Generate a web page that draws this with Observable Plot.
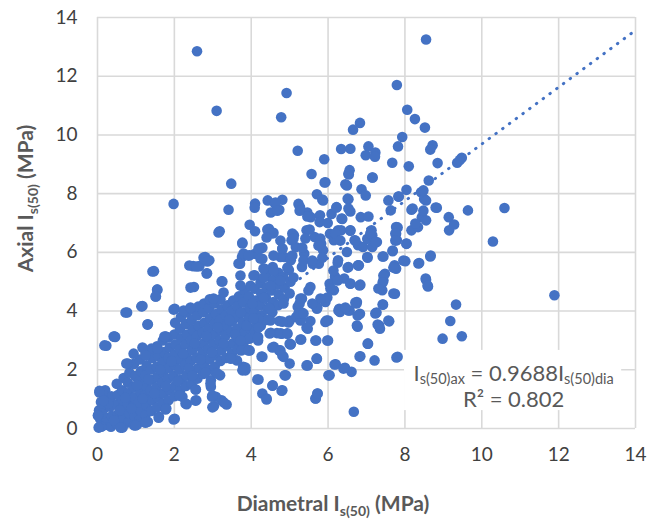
<!DOCTYPE html>
<html><head><meta charset="utf-8">
<script src="https://cdn.jsdelivr.net/npm/d3@7"></script>
<script src="https://cdn.jsdelivr.net/npm/@observablehq/plot@0.6"></script>
<style>
body{margin:0;background:#fff;}
#chart{width:660px;height:520px;}
</style></head><body><div id="chart"></div>
<script>
// ---------- data (Diametral Is(50), Axial Is(50)) in MPa ----------
const xTicks = [0, 2, 4, 6, 8, 10, 12, 14];
const yTicks = [0, 2, 4, 6, 8, 10, 12, 14];
const trendSlope = 0.9688;
const trendR2 = 0.802;
const trendX = [0, 14];

const upperScatter = [
[2.59,12.85],[8.55,13.25],[7.79,11.70],[4.92,11.43],[3.10,10.82],[4.78,10.60],[8.06,10.86],[8.26,10.54],[6.83,10.41],[6.65,10.18],
[8.52,10.25],[7.93,9.93],[8.72,9.65],[8.66,9.50],[7.82,9.61],[7.05,9.61],[6.34,9.52],[6.58,9.53],[5.21,9.46],[7.23,9.40],
[6.98,9.31],[7.22,9.26],[5.90,9.17],[7.67,9.05],[8.10,8.93],[8.85,9.04],[9.36,9.05],[9.48,9.22],[9.43,9.15],[7.15,8.55],
[6.56,8.80],[6.54,8.65],[5.57,8.67],[3.48,8.34],[5.93,8.39],[6.45,8.32],[6.49,8.28],[8.62,8.45],[6.87,8.15],[6.98,7.94],
[8.04,8.13],[8.42,8.05],[5.71,7.98],[5.87,7.77],[6.53,7.81],[7.84,7.90],[7.57,7.77],[8.50,7.82],[8.55,7.77],[1.98,7.65],
[4.43,7.77],[4.10,7.66],[4.09,7.52],[3.41,7.45],[4.81,7.79],[4.62,7.66],[4.51,7.36],[4.73,7.45],[5.23,7.65],[5.27,7.54],
[8.83,7.52],[8.17,7.45],[7.63,7.43],[9.64,7.43],[10.59,7.51],[5.91,8.38],[6.53,8.68],[7.16,8.55],[5.85,7.80],[4.63,7.70],
[4.68,7.42],[5.26,7.42],[5.46,7.22],[6.22,7.53],[6.51,7.83],[6.35,7.15],[6.53,7.49],[7.83,7.90],[8.48,8.11],[8.20,7.49],
[8.48,7.42],[8.80,7.53]
];

const midBand = [
[9.14,7.20],[9.15,6.75],[9.28,6.95],[10.29,6.37],[6.22,7.54],[6.09,7.31],[6.37,7.14],[6.58,7.39],[6.85,7.20],[7.05,7.22],
[5.46,7.36],[5.55,7.20],[5.44,6.75],[5.79,7.26],[5.78,7.03],[5.99,7.00],[8.44,7.20],[8.55,7.09],[8.17,6.75],[8.34,6.86],
[7.77,6.86],[7.77,6.63],[7.79,6.41],[8.04,6.29],[7.68,6.04],[7.44,5.86],[8.66,5.86],[8.01,5.70],[8.37,5.64],[7.73,5.56],
[7.77,5.44],[7.48,5.27],[7.44,5.04],[8.55,5.07],[8.60,4.84],[7.41,4.71],[7.74,4.59],[6.84,4.90],[6.78,5.56],[6.53,5.50],
[6.58,4.93],[6.26,5.73],[6.18,5.18],[6.42,5.11],[6.15,4.71],[6.04,4.93],[3.18,6.72],[3.25,5.01],[3.77,6.33],[3.71,5.61],
[3.76,5.84],[3.96,6.94],[4.10,6.72],[4.23,6.12],[4.10,5.95],[3.96,5.90],[4.46,6.80],[4.58,6.67],[4.29,5.78],[4.35,5.44],
[4.56,5.50],[4.09,5.22],[4.81,6.12],[4.86,5.84],[4.76,5.84],[5.05,6.41],[5.11,6.58],[5.03,5.73],[5.16,6.18],[5.38,5.95],
[5.32,5.50],[5.54,4.82],[5.60,5.61],[5.76,5.61],[5.65,6.52],[5.82,6.29],[5.87,6.07],[6.05,6.63],[6.15,6.41],[6.26,6.75],
[6.34,6.75],[6.49,6.01],[6.58,6.75],[6.69,6.41],[6.78,6.24],[6.91,6.18],[7.02,5.84],[6.80,5.56],[7.13,6.75],[7.15,6.18],
[7.27,6.35],[7.02,6.46],[7.15,6.58],[1.47,5.36],[1.55,4.73],[1.52,4.50],[2.49,5.53],[2.65,5.53],[2.51,4.82],[2.80,5.84],
[2.91,5.73],[2.85,5.29],[4.42,6.78],[4.55,6.64],[5.07,6.64],[5.10,6.47],[5.52,6.78],[5.80,6.47],[6.19,6.64],[6.32,6.40],
[6.71,6.40],[7.10,6.64],[7.23,6.34],[6.58,6.74],[8.27,6.98],[7.81,6.85],[7.75,6.64],[7.75,6.40],[8.04,6.30],[7.68,6.06],
[7.96,5.72],[8.35,5.62],[8.67,5.89],[7.42,5.86],[7.03,5.82],[6.51,5.48],[6.79,5.55],[6.25,5.65],[7.70,5.48],[7.44,5.21],
[7.42,4.97],[7.31,4.77],[7.70,4.60],[8.54,5.11],[8.59,4.87],[6.14,5.38],[6.25,5.04],[6.58,4.94],[6.82,4.87],[6.06,4.77],
[5.98,4.46],[5.80,4.43],[6.71,4.29],[6.45,4.12],[5.28,4.43],[5.59,4.26],[5.49,4.70],[5.10,5.14],[4.76,5.04],[4.32,5.14],
[4.58,5.38],[4.50,4.87],[4.94,5.48],[5.36,5.72],[5.07,5.89],[4.58,5.89],[4.81,6.13],[5.59,5.72],[5.85,5.82],[5.33,6.16],
[5.75,6.23],[4.29,6.16],[4.40,6.51],[5.41,6.47],[4.76,6.40],[3.15,6.68],[3.77,6.30],[4.19,6.13],[3.80,5.96],[3.93,5.89],
[4.24,5.79],[3.67,5.62],[3.72,5.21],[4.06,5.21],[4.32,5.45],[2.76,5.82],[2.86,5.69],[2.39,5.55],[2.58,5.52],[2.84,5.28],
[1.43,5.35],[1.56,4.73],[1.51,4.50],[2.42,4.80],[3.23,5.01],[3.28,4.63],[1.14,4.16],[0.73,3.95],[1.30,3.54],[0.44,3.13],
[1.74,3.13],[1.98,4.05],[2.24,4.02],[2.42,4.12],[3.02,4.43],[3.72,4.87]
];

const lowerRight = [
[7.43,4.22],[9.33,4.22],[11.89,4.54],[7.26,3.95],[7.59,3.65],[7.33,3.51],[7.35,3.40],[9.18,3.66],[8.98,3.06],[9.48,3.14],
[7.04,2.89],[6.84,2.46],[7.21,2.32],[7.81,2.44],[6.67,0.57],[6.75,4.31],[6.83,3.91],[6.75,3.51],[6.56,4.02],[6.29,4.08],
[6.31,3.97],[5.93,4.31],[6.20,2.19],[6.44,2.07],[6.61,1.93],[6.04,1.81],[6.00,3.00],[5.69,3.00],[5.93,3.63],[6.00,3.68],
[5.54,3.66],[5.47,3.40],[5.30,3.03],[5.03,2.87],[5.71,2.38],[5.47,2.15],[5.73,1.19],[5.68,1.02],[5.00,2.21],[4.90,1.81],
[4.81,1.30],[4.56,1.47],[4.29,1.19],[4.40,1.02],[4.19,1.67],[4.29,2.44],[4.73,2.66],[4.84,2.44],[4.59,2.78],[4.80,3.23],
[4.94,3.23],[4.67,3.25],[4.51,3.26],[4.18,3.12],[4.18,3.00],[4.73,3.66],[5.00,3.68],[5.17,3.80],[5.66,4.20],[5.71,4.08],
[5.32,4.43],[5.21,4.15],[5.29,3.97],[5.29,3.74],[6.74,4.26],[7.42,4.22],[6.27,4.02],[6.53,4.02],[6.77,3.85],[7.23,3.92],
[7.57,3.68],[7.29,3.54],[6.77,3.47],[5.96,3.68],[5.44,3.44],[5.28,3.68],[4.97,3.61],[4.81,3.64],[5.28,3.03],[5.02,2.86],
[5.67,3.00],[5.98,3.00],[7.03,2.89],[7.78,2.42],[6.82,2.45],[6.17,2.18],[6.40,2.04],[6.01,1.81],[5.70,2.38],[5.44,2.15],
[4.87,1.81],[4.55,1.46],[4.79,1.29],[4.40,0.99],[4.16,1.67],[5.67,1.02],[5.72,1.19],[4.27,2.45],[4.55,2.76],[4.76,2.66],
[4.81,2.49],[5.00,2.89],[3.93,2.66],[3.72,3.00],[3.85,2.08],[3.77,1.98],[4.16,3.10],[4.48,3.24],[4.76,3.24],[4.94,3.24],
[4.50,3.68],[4.19,3.44],[4.06,3.75],[5.26,4.26],[5.72,4.12],[4.84,4.26],[5.23,3.92],[5.36,3.92]
];

const lowerLeft = [
[3.96,2.66],[3.74,2.66],[3.85,1.98],[3.79,2.10],[3.63,2.32],[3.47,2.38],[3.36,0.82],[3.23,0.96],[3.03,0.76],[3.08,1.08],
[2.98,1.08],[3.19,1.81],[3.08,1.89],[2.95,1.42],[2.95,1.64],[2.56,1.33],[2.57,0.96],[2.32,0.83],[2.21,1.08],[2.01,0.33],
[1.79,0.68],[1.60,0.40],[1.31,0.23],[1.03,0.14],[0.65,0.03],[0.10,0.06],[0.02,0.45],[0.05,1.28],[0.13,1.19],[0.23,2.82],
[0.46,3.12],[0.77,3.95],[0.79,2.21],[1.17,4.17],[1.31,3.55],[1.79,3.12],[2.01,4.08],[0.18,2.83],[0.42,3.13],[0.75,2.21],
[0.94,2.55],[1.17,2.76],[1.25,2.49],[1.77,3.13],[1.56,2.72],[0.05,1.23],[0.16,0.95],[0.01,0.44],[0.03,0.03],[0.60,0.03],
[0.99,0.10],[1.25,0.20],[1.59,0.37],[1.77,0.65],[1.98,0.31],[2.13,1.12],[2.29,0.85],[2.55,1.33],[2.55,0.95],[2.94,1.53],
[2.99,1.12],[2.99,0.72],[3.28,0.89],[3.12,1.87],[2.81,1.91],[2.47,1.80]
];

const clusterCore = [
[0.05,0.05],[0.07,0.32],[0.04,0.62],[0.09,0.9],
[0.2,0.12],[0.22,0.37],[0.18,0.7],[0.24,1.02],[0.2,1.3],
[0.35,0.06],[0.37,0.42],[0.33,0.74],[0.36,1.1],
[0.5,0.16],[0.52,0.47],[0.48,0.82],[0.53,1.14],[0.5,1.52],
[0.65,0.07],[0.67,0.36],[0.63,0.66],[0.66,0.97],[0.64,1.3],[0.68,1.72],
[0.8,0.21],[0.82,0.52],[0.78,0.86],[0.81,1.21],[0.79,1.56],[0.83,1.9],
[0.95,0.11],[0.97,0.42],[0.93,0.76],[0.96,1.06],[0.94,1.41],[0.98,1.79],[0.95,2.2],
[1.1,0.3],[1.12,0.61],[1.08,0.9],[1.11,1.26],[1.09,1.6],[1.13,1.96],[1.1,2.35],
[1.25,0.46],[1.27,0.8],[1.23,1.12],[1.26,1.46],[1.24,1.8],[1.28,2.15],[1.25,2.58],
[1.4,0.6],[1.42,0.96],[1.38,1.3],[1.41,1.66],[1.39,2.01],[1.43,2.4],[1.4,2.72],
[1.55,0.72],[1.57,1.06],[1.53,1.4],[1.56,1.76],[1.54,2.1],[1.58,2.46],[1.55,2.8],
[1.7,0.86],[1.72,1.2],[1.68,1.56],[1.71,1.9],[1.69,2.26],[1.73,2.6],[1.7,3.0],
[1.85,0.96],[1.87,1.31],[1.83,1.7],[1.86,2.06],[1.84,2.4],[1.88,2.76],[1.85,3.1],
[2.0,1.1],[2.02,1.46],[1.98,1.8],[2.01,2.16],[1.99,2.5],[2.03,2.86],[2.0,3.2],[2.02,3.6],
[2.15,1.3],[2.17,1.66],[2.13,2.0],[2.16,2.36],[2.14,2.7],[2.18,3.06],[2.15,3.4],[2.17,3.8],
[2.3,1.45],[2.32,1.8],[2.28,2.16],[2.31,2.5],[2.29,2.86],[2.33,3.2],[2.3,3.56],[2.32,3.95],
[2.45,1.52],[2.47,1.96],[2.43,2.3],[2.46,2.66],[2.44,3.0],[2.48,3.36],[2.45,3.7],[2.47,4.05],
[2.6,1.7],[2.62,2.06],[2.58,2.4],[2.61,2.8],[2.59,3.16],[2.63,3.5],[2.6,3.86],[2.62,4.15],
[2.75,1.86],[2.77,2.2],[2.73,2.56],[2.76,2.9],[2.74,3.26],[2.78,3.6],[2.75,3.96],[2.77,4.26],
[2.9,2.0],[2.92,2.36],[2.88,2.7],[2.91,3.06],[2.89,3.4],[2.93,3.76],[2.9,4.1],[2.92,4.4],
[3.05,2.1],[3.07,2.5],[3.03,2.86],[3.06,3.2],[3.04,3.56],[3.08,3.9],[3.05,4.26],
[3.2,2.3],[3.22,2.66],[3.18,3.0],[3.21,3.36],[3.19,3.7],[3.23,4.06],[3.2,4.4],
[3.35,2.4],[3.37,2.8],[3.33,3.16],[3.36,3.5],[3.34,3.86],[3.38,4.2],
[3.5,2.56],[3.52,2.9],[3.48,3.3],[3.51,3.66],[3.49,4.0],[3.53,4.36],
[3.65,2.7],[3.67,3.06],[3.63,3.4],[3.66,3.8],[3.64,4.16],[3.68,4.5],
[3.8,2.9],[3.82,3.26],[3.78,3.6],[3.81,3.96],[3.79,4.3],[3.83,4.7],
[3.95,3.06],[3.97,3.4],[3.93,3.76],[3.96,4.1],[3.94,4.5],[3.98,4.86],
[4.1,3.3],[4.12,3.66],[4.08,4.0],[4.11,4.36],[4.09,4.76],
[4.25,3.5],[4.27,3.86],[4.23,4.2],[4.26,4.6],[4.24,4.96],
[4.4,3.7],[4.42,4.06],[4.38,4.46],[4.41,4.8],[4.39,5.2],
[4.55,3.96],[4.57,4.3],[4.53,4.7],[4.56,5.06],
[4.7,4.2],[4.72,4.56],[4.68,4.9],[4.71,5.3],
[4.85,4.4],[4.87,4.8],[4.83,5.16],
[5.0,4.6],[5.02,5.0],[4.98,5.4],
[0.12,0.5],[0.28,0.85],[0.43,0.28],[0.58,0.62],[0.72,1.05],[0.88,0.68],[1.03,1.48],[1.18,1.02],[1.33,1.68],[1.48,1.2],
[1.63,2.0],[1.78,1.45],[1.93,2.3],[2.08,1.62],[2.23,2.55],[2.38,2.05],[2.53,2.9],[2.68,2.35],[2.83,3.15],[2.98,2.6],
[3.13,3.45],[3.28,2.9],[3.43,3.7],[3.58,3.2],[3.73,3.95],[3.88,3.5],[4.03,4.25],[4.18,3.75],[4.33,4.45],[4.48,4.1]
];

// ---------- chart ----------
const FONT = "Lato, 'Open Sans', 'DejaVu Sans', sans-serif";
const BLUE = "#4472C4";
const GRID = "#d9d9d9";
const W = 660, H = 520;

const samples = [...clusterCore, ...lowerLeft, ...lowerRight, ...midBand, ...upperScatter]
  .map(([x, y]) => ({x, y}));
const trend = trendX.map(x => ({x, y: trendSlope * x}));

const plot = Plot.plot({
  width: W, height: H,
  marginLeft: 97, marginRight: 25, marginTop: 17, marginBottom: 92,
  style: {fontFamily: FONT, fontSize: "19px", color: "#404040", background: "#fff"},
  x: {domain: [0, 14], ticks: xTicks, label: null, tickSize: 0, tickPadding: 19},
  y: {domain: [0, 14], ticks: yTicks, label: null, tickSize: 0, tickPadding: 20},
  marks: [
    Plot.ruleX(xTicks, {stroke: GRID, strokeWidth: 1.6}),
    Plot.ruleY(yTicks, {stroke: GRID, strokeWidth: 1.6}),
    Plot.line(trend, {x: "x", y: "y", stroke: BLUE, strokeWidth: 3, strokeDasharray: "0.5 7.9", strokeLinecap: "round"}),
    Plot.dot(samples, {x: "x", y: "y", r: 5.3, fill: BLUE})
  ]
});

const svg = d3.select(plot);
const sx = plot.scale("x"), sy = plot.scale("y");

// axis titles
const xt = svg.append("text")
  .attr("x", W / 2 + 3).attr("y", 511).attr("text-anchor", "middle")
  .attr("font-family", FONT).attr("font-weight", "bold").attr("font-size", 21).attr("fill", "#595959");
xt.append("tspan").text("Diametral I");
xt.append("tspan").attr("font-size", 14).attr("dy", 5).text("s(50)");
xt.append("tspan").attr("dy", -5).text(" (MPa)");

const yt = svg.append("text")
  .attr("transform", `translate(33,${(sy.apply(0) + sy.apply(14)) / 2 - 24}) rotate(-90)`)
  .attr("text-anchor", "middle")
  .attr("font-family", FONT).attr("font-weight", "bold").attr("font-size", 21).attr("fill", "#595959");
yt.append("tspan").text("Axial I");
yt.append("tspan").attr("font-size", 14).attr("dy", 5).text("s(50)");
yt.append("tspan").attr("dy", -5).text(" (MPa)");

// trendline label
const bx0 = sx.apply(7.99), bx1 = sx.apply(13.64);
const by0 = sy.apply(2.66), by1 = sy.apply(0.61);
svg.append("rect").attr("x", bx0).attr("y", by0).attr("width", bx1 - bx0).attr("height", by1 - by0).attr("fill", "#fff");
const cx = (bx0 + bx1) / 2 + 1;
const l1 = svg.append("text").attr("x", cx).attr("y", sy.apply(1.6)).attr("text-anchor", "middle")
  .attr("font-family", FONT).attr("font-size", 22).attr("fill", "#595959");
l1.append("tspan").text("I");
l1.append("tspan").attr("font-size", 14.5).attr("dy", 3).text("s(50)ax");
l1.append("tspan").attr("dy", -3).text(` = ${trendSlope}I`);
l1.append("tspan").attr("font-size", 14.5).attr("dy", 3).text("s(50)dia");
svg.append("text").attr("x", cx).attr("y", sy.apply(0.72)).attr("text-anchor", "middle")
  .attr("font-family", FONT).attr("font-size", 22).attr("fill", "#595959")
  .text(`R² = ${trendR2}`);

document.getElementById("chart").appendChild(plot);
</script></body></html>
